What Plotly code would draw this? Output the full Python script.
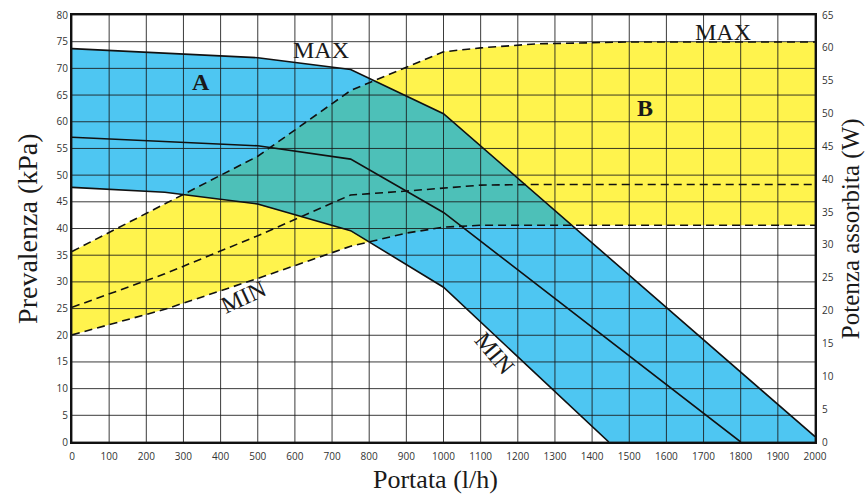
import numpy as np
import plotly.graph_objects as go

# ---------------- data ----------------
# Curve A: pump head (kPa, left axis)
a_max_x = [0, 500, 750, 1000, 2000]
a_max_y = [73.7, 72.0, 69.8, 61.5, 1.0]
a_mid_x = [0, 500, 750, 1000, 1800]
a_mid_y = [57.1, 55.5, 53.0, 43.0, 0.0]
a_min_x = [0, 250, 500, 750, 1000, 1445]
a_min_y = [47.7, 46.8, 44.6, 39.6, 29.0, 0.0]

# Curve B: absorbed power (W, right axis)
b_x = [0, 250, 500, 750, 900, 1000, 1100, 1250, 1500, 2000]
b_max_w = [29.0, 36.2, 43.5, 53.5, 57.0, 59.4, 60.0, 60.6, 60.9, 60.9]
b_mid_w = [20.5, 25.6, 31.4, 37.6, 38.2, 38.7, 39.1, 39.2, 39.2, 39.2]
b_min_w = [16.3, 20.2, 24.9, 29.8, 31.8, 32.7, 33.0, 33.0, 33.0, 33.0]

x_ticks = list(range(0, 2001, 100))
y_ticks = list(range(0, 81, 5))
y2_ticks = list(range(0, 66, 5))

X_RANGE = [0, 2000]
Y_RANGE = [0, 80]
Y2_RANGE = [0, 65]

BLUE = "#4EC6F2"
YELLOW = "#FFF34D"
TEAL = "#4DC0B8"
SERIF = "Liberation Serif, Times New Roman, serif"
SANS = "Open Sans, Liberation Sans, sans-serif"

# convert W values onto the kPa axis scale (both axes share the plot height)
k = (Y_RANGE[1] - Y_RANGE[0]) / (Y2_RANGE[1] - Y2_RANGE[0])
b_max = [v * k for v in b_max_w]
b_mid = [v * k for v in b_mid_w]
b_min = [v * k for v in b_min_w]

fig = go.Figure()

# yellow region (B)
fig.add_trace(go.Scatter(x=b_x + b_x[::-1], y=b_max + b_min[::-1], fill="toself",
                         fillcolor=YELLOW, line=dict(width=0), mode="lines",
                         hoverinfo="skip", showlegend=False))

# blue region (A)
a_low_x = a_min_x + [X_RANGE[1]]
a_low_y = a_min_y + [0.0]
fig.add_trace(go.Scatter(x=a_max_x + a_low_x[::-1], y=a_max_y + a_low_y[::-1], fill="toself",
                         fillcolor=BLUE, line=dict(width=0), mode="lines",
                         hoverinfo="skip", showlegend=False))

# overlap region (teal)
xs = np.linspace(X_RANGE[0], X_RANGE[1], 2001)
upper = np.minimum(np.interp(xs, a_max_x, a_max_y), np.interp(xs, b_x, b_max))
lower = np.maximum(np.interp(xs, a_low_x, a_low_y), np.interp(xs, b_x, b_min))
m = upper > lower
ox = xs[m]
fig.add_trace(go.Scatter(x=np.concatenate([ox, ox[::-1]]),
                         y=np.concatenate([upper[m], lower[m][::-1]]),
                         fill="toself", fillcolor=TEAL, line=dict(width=0), mode="lines",
                         hoverinfo="skip", showlegend=False))

# grid lines drawn above the fills
gx, gy = [], []
for t in x_ticks:
    gx += [t, t, None]
    gy += [Y_RANGE[0], Y_RANGE[1], None]
for t in y_ticks:
    gx += [X_RANGE[0], X_RANGE[1], None]
    gy += [t, t, None]
fig.add_trace(go.Scatter(x=gx, y=gy, mode="lines", line=dict(color="rgba(25,25,25,0.85)", width=1),
                         hoverinfo="skip", showlegend=False))

# A curves (solid)
for cx, cy in [(a_max_x, a_max_y), (a_mid_x, a_mid_y), (a_min_x, a_min_y)]:
    fig.add_trace(go.Scatter(x=cx, y=cy, mode="lines", line=dict(color="#111", width=1.6),
                             showlegend=False))
# B curves (dashed)
for cy in [b_max, b_mid, b_min]:
    fig.add_trace(go.Scatter(x=b_x, y=cy, mode="lines",
                             line=dict(color="#111", width=1.6, dash="8px,5px"),
                             showlegend=False))

# dummy trace on right axis so it renders
fig.add_trace(go.Scatter(x=[X_RANGE[0]], y=[Y2_RANGE[0]], yaxis="y2", mode="markers",
                         marker=dict(opacity=0), hoverinfo="skip", showlegend=False))

ann = [
    dict(x=347, y=67.4, text="<b>A</b>", size=24, angle=0),
    dict(x=1542, y=62.5, text="<b>B</b>", size=24, angle=0),
    dict(x=670, y=73.4, text="MAX", size=24, angle=0),
    dict(x=1753, y=76.8, text="MAX", size=24, angle=0),
    dict(x=461, y=27.2, text="MIN", size=24, angle=-25),
    dict(x=1136, y=16.6, text="MIN", size=24, angle=50),
]
for a in ann:
    fig.add_annotation(x=a["x"], y=a["y"], xref="x", yref="y", text=a["text"], showarrow=False,
                       textangle=a["angle"], font=dict(family=SERIF, size=a["size"], color="#1a1a1a"))

fig.add_annotation(x=-0.06, y=0.5, xref="paper", yref="paper", text="Prevalenza (kPa)",
                   xanchor="center", yanchor="middle",
                   textangle=-90, showarrow=False, font=dict(family=SERIF, size=28, color="#1a1a1a"))
fig.add_annotation(x=0.4886, y=-0.088, xref="paper", yref="paper", text="Portata (l/h)",
                   xanchor="center", yanchor="middle",
                   showarrow=False, font=dict(family=SERIF, size=26, color="#1a1a1a"))
fig.add_annotation(x=1.048, y=0.5, xref="paper", yref="paper", text="Potenza assorbita (W)",
                   xanchor="center", yanchor="middle",
                   textangle=-90, showarrow=False, font=dict(family=SERIF, size=25, color="#1a1a1a"))

tickfont = dict(family=SANS, size=10, color="#333")
fig.update_layout(
    width=866, height=494,
    margin=dict(l=72, r=51, t=15, b=52),
    paper_bgcolor="white", plot_bgcolor="white",
    xaxis=dict(range=X_RANGE, tickvals=x_ticks, showgrid=False, zeroline=False,
               showline=True, mirror=True, linecolor="#111", linewidth=2,
               tickfont=tickfont, ticks="", ticklen=0, automargin=False,
               ticklabelstandoff=4),
    yaxis=dict(range=Y_RANGE, tickvals=y_ticks, showgrid=False, zeroline=False,
               showline=True, mirror=True, linecolor="#111", linewidth=2,
               tickfont=tickfont, ticks="", automargin=False),
    yaxis2=dict(range=Y2_RANGE, tickvals=y2_ticks, overlaying="y", side="right",
                showgrid=False, zeroline=False, showline=False, tickfont=tickfont, ticks="",
                automargin=False, ticklabelstandoff=6),
)

fig.write_html("out.html", config={"displayModeBar": False},
               post_script="document.body.style.margin='0';")
